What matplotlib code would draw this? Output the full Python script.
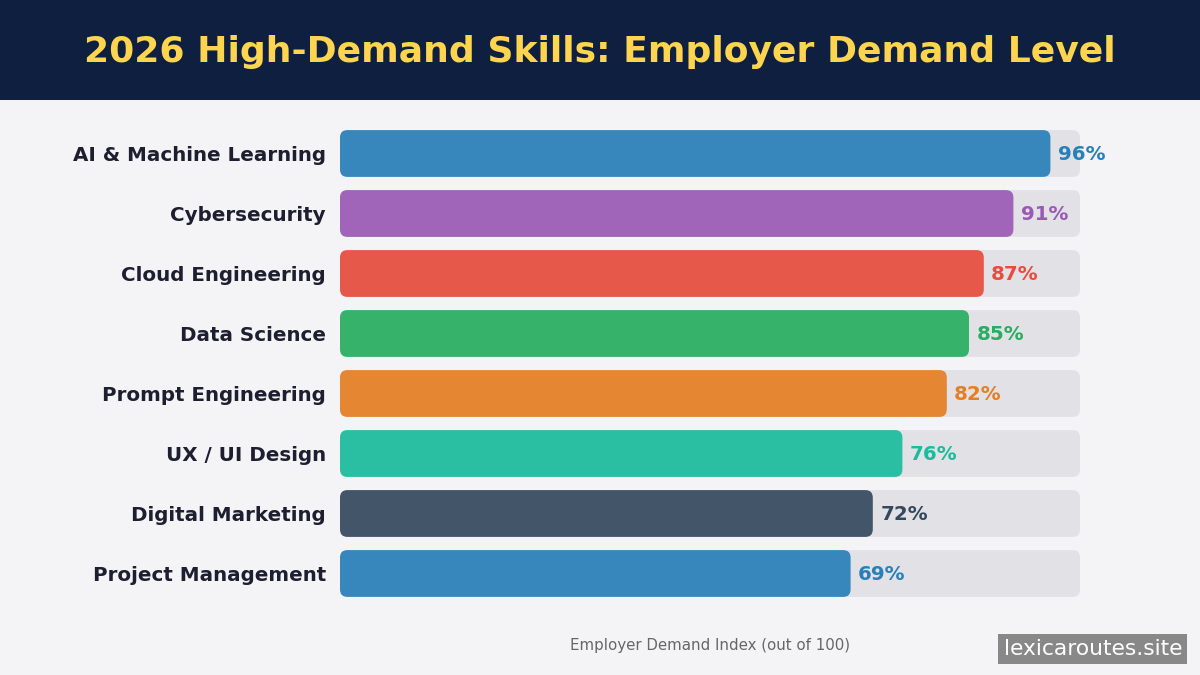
import matplotlib.pyplot as plt
from matplotlib.patches import FancyBboxPatch, Rectangle

plt.rcParams["font.family"] = ["DejaVu Sans"]

skills = [
    "AI & Machine Learning",
    "Cybersecurity",
    "Cloud Engineering",
    "Data Science",
    "Prompt Engineering",
    "UX / UI Design",
    "Digital Marketing",
    "Project Management",
]
demand = [96, 91, 87, 85, 82, 76, 72, 69]
colors = ["#2980B9", "#9B59B6", "#E74C3C", "#27AE60",
          "#E67E22", "#1ABC9C", "#34495E", "#2980B9"]

bg = "#F4F4F7"
fig = plt.figure(figsize=(12, 6.75), dpi=100, facecolor=bg)

# title band
fig.patches.append(Rectangle((0, 1 - 100 / 675), 1, 100 / 675, transform=fig.transFigure,
                             facecolor="#0F1F3F", edgecolor="none", zorder=0))
fig.text(0.5, 1 - 52 / 675, "2026 High-Demand Skills: Employer Demand Level",
         ha="center", va="center", fontsize=26, fontweight="bold", color="#FFD54F")

ax = fig.add_axes([340 / 1200, 1 - 603.5 / 675, 740 / 1200, 480 / 675])
ax.set_facecolor(bg)
ax.set_xlim(0, 100)
ax.set_ylim(len(skills) - 0.5, -0.5)

h = 0.78
asp = 0.125
for i, (name, v, c) in enumerate(zip(skills, demand, colors)):
    track = FancyBboxPatch((0, i - h / 2), 100, h,
                           boxstyle="round,pad=0,rounding_size=1.0",
                           mutation_aspect=asp, facecolor="#E1E1E6", edgecolor="none", zorder=1)
    ax.add_patch(track)
    bar = FancyBboxPatch((0, i - h / 2), v, h,
                         boxstyle="round,pad=0,rounding_size=1.0",
                         mutation_aspect=asp, facecolor=c, edgecolor="none", alpha=0.92, zorder=2)
    ax.add_patch(bar)
    ax.text(v + 1, i + 0.02, f"{v}%", va="center", ha="left", fontsize=14.3,
            fontweight="bold", color=c, zorder=3)

ax.set_yticks(range(len(skills)))
ax.set_yticklabels(skills, fontsize=14.3, fontweight="bold", color="#1E1E30")
ax.tick_params(axis="y", length=0, pad=10)
ax.set_xticks([])
for s in ax.spines.values():
    s.set_visible(False)

ax.set_xlabel("Employer Demand Index (out of 100)", fontsize=10.8, color="#666666", labelpad=25)

fig.text(1182 / 1200, 1 - 649 / 675, "lexicaroutes.site", ha="right", va="center",
         fontsize=15.7, color="white",
         bbox=dict(boxstyle="square,pad=0.25", facecolor="#888888", edgecolor="none"))

fig.savefig("out.png", dpi=100, facecolor=bg)
